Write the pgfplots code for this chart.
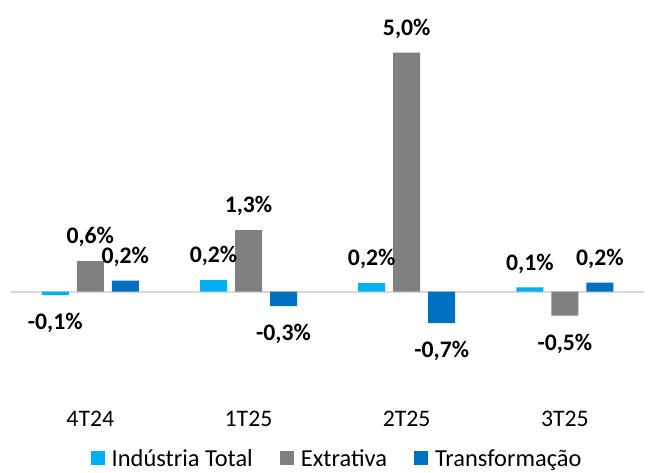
\documentclass[border=0pt]{standalone}
\usepackage{pgfplots}
\pgfplotsset{compat=1.18}
\usepackage{pgfplotstable}
\usepackage{fontspec}
\setmainfont{Carlito}
\definecolor{cInd}{HTML}{00B0F0}
\definecolor{cExt}{HTML}{808080}
\definecolor{cTra}{HTML}{0070C0}
\definecolor{cZero}{HTML}{D9D9D9}
\newcommand{\bigf}{\fontsize{23.8}{28}\selectfont}
\newcommand{\legf}{\fontsize{24.5}{28}\selectfont}

\pgfplotstableread{
x y label
0 -0.07 -0,1
1 0.24 0,2
2 0.18 0,2
3 0.09 0,1
}\ind
\pgfplotstableread{
x y label
0 0.64 0,6
1 1.29 1,3
2 5.00 5,0
3 -0.50 -0,5
}\ext
\pgfplotstableread{
x y label
0 0.23 0,2
1 -0.30 -0,3
2 -0.66 -0,7
3 0.19 0,2
}\tra

\begin{document}
\begin{tikzpicture}
\path[use as bounding box] (0,0) rectangle (665bp,473bp);
\begin{axis}[
  at={(11.2bp,133.5bp)}, anchor=south west, scale only axis,
  width=632.8bp, height=315.5bp,
  xmin=-0.5, xmax=3.5, ymin=-1, ymax=5.6,
  axis line style={draw=none},
  ytick=\empty,
  xtick={0,1,2,3}, xticklabels={4T24,1T25,2T25,3T25},
  major tick length=0pt,
  xticklabel style={font=\bigf, anchor=base, yshift=-86.5bp},
  ybar=8bp, bar width=27bp,
  clip=false,
  point meta=explicit symbolic,
  visualization depends on={y \as \rawy},
  nodes near coords={\pgfplotspointmeta\%},
  every node near coord/.append style={font=\bfseries\bigf, text=black, anchor=center,
     yshift={ifthenelse(\rawy<0,-28,24)}},
  legend columns=3,
  legend cell align=left,
  legend style={at={(axis description cs:0.515,-0.378)}, anchor=center, draw=none, fill=none,
    font=\legf,
    /tikz/every odd column/.append style={column sep=5bp},
    /tikz/every even column/.append style={column sep=25bp}},
  legend image code/.code={\fill[#1] (0bp,-6bp) rectangle (14bp,8bp);},
]
\draw[cZero, line width=2bp] (axis cs:-0.5,0) -- (axis cs:3.5,0);
\addplot[fill=cInd, draw=none] table[x=x,y=y,meta=label]{\ind};
\addlegendentry{Indústria Total}
\addplot[fill=cExt, draw=none] table[x=x,y=y,meta=label]{\ext};
\addlegendentry{Extrativa}
\addplot[fill=cTra, draw=none] table[x=x,y=y,meta=label]{\tra};
\addlegendentry{Transformação}
\end{axis}
\end{tikzpicture}
\end{document}
